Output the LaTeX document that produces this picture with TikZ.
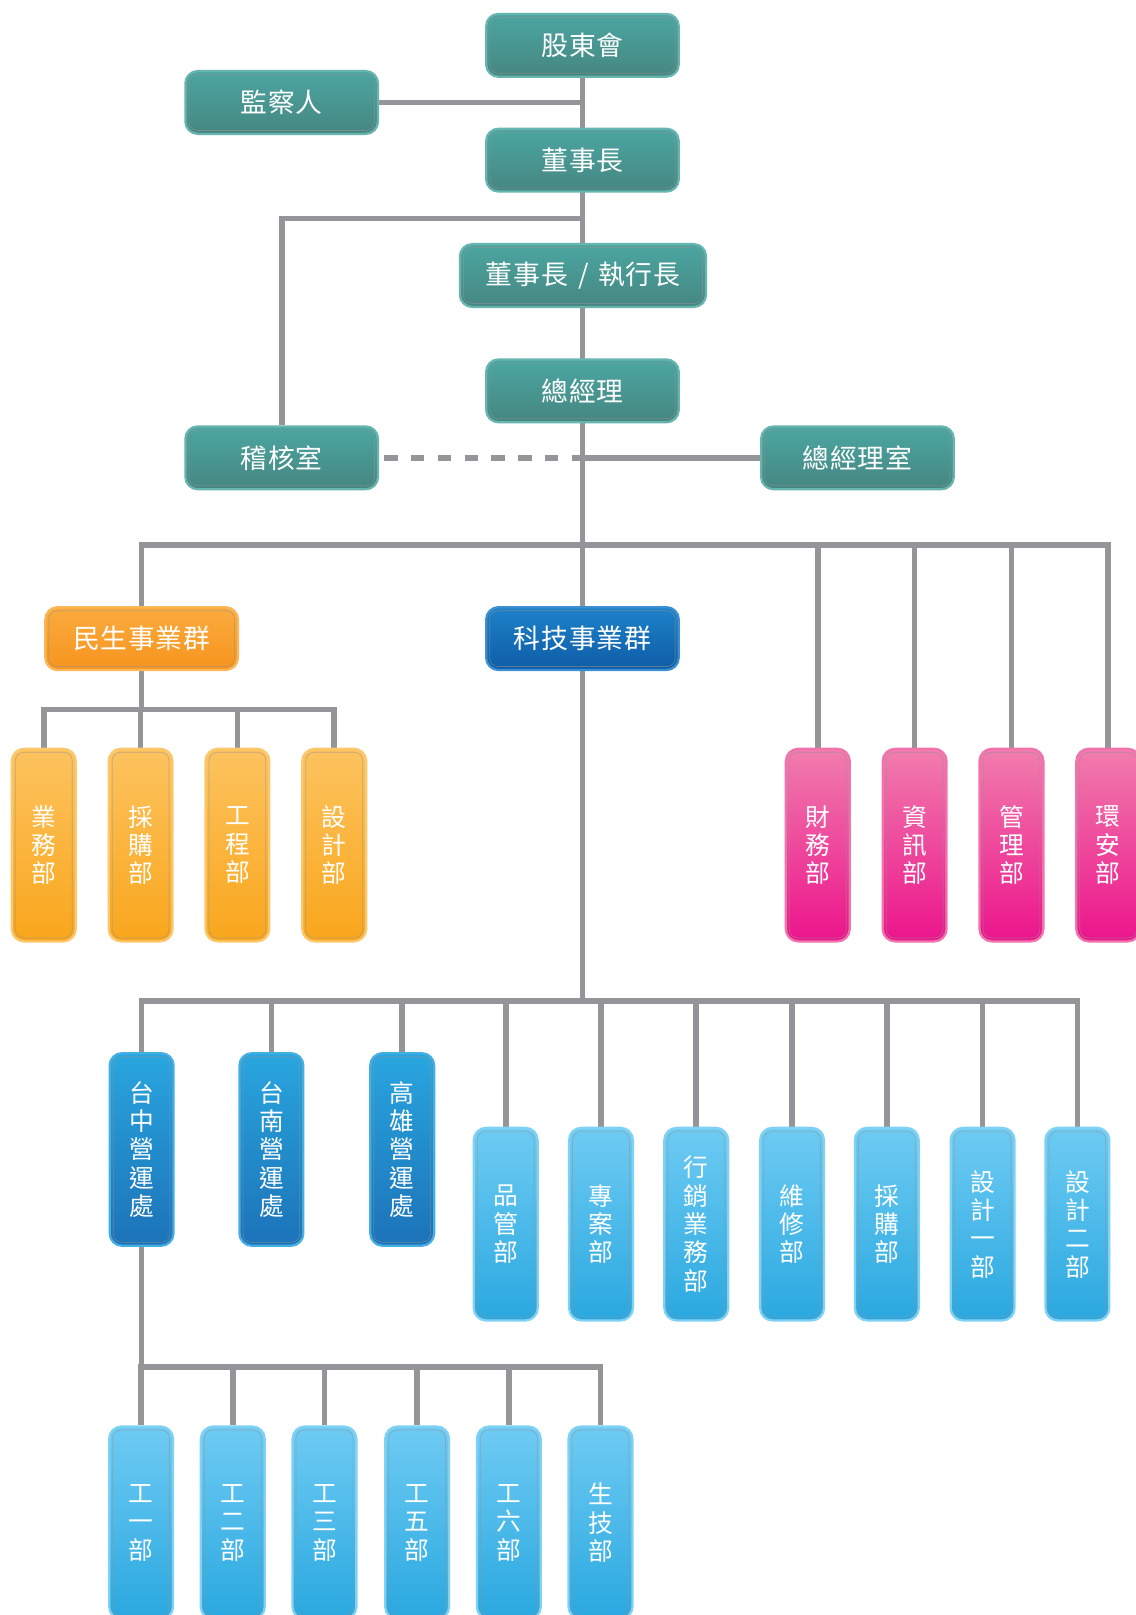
\documentclass[tikz,border=0pt]{standalone}
\usepackage{fontspec}
\newfontfamily\cjk{Noto Sans CJK TC}
\newfontfamily\cjkw{Noto Sans CJK TC}[LetterSpace=3]
\usetikzlibrary{backgrounds}
\definecolor{lineG}{HTML}{939598}
\definecolor{tealT}{HTML}{4BA6A1}
\definecolor{tealB}{HTML}{468681}
\definecolor{tealE}{HTML}{66B5AF}
\definecolor{msT}{HTML}{FAAB3E}
\definecolor{msB}{HTML}{F7941E}
\definecolor{msE}{HTML}{FBB655}
\definecolor{orT}{HTML}{FDC35F}
\definecolor{orB}{HTML}{F9A61C}
\definecolor{orE}{HTML}{FDC76C}
\definecolor{kjT}{HTML}{1E82C8}
\definecolor{kjB}{HTML}{0E5CA7}
\definecolor{kjE}{HTML}{3A90D2}
\definecolor{pkT}{HTML}{F17DAD}
\definecolor{pkB}{HTML}{EC148C}
\definecolor{pkE}{HTML}{F173AD}
\definecolor{dbT}{HTML}{29A6DF}
\definecolor{dbB}{HTML}{1C72B8}
\definecolor{dbE}{HTML}{45AEE2}
\definecolor{lbT}{HTML}{6ECBF3}
\definecolor{lbB}{HTML}{2AA8E0}
\definecolor{lbE}{HTML}{80D2F5}
\tikzset{
  box/.style={rounded corners=12pt, line width=2.2pt, text=white, inner sep=0pt},
  widebox/.style={box, minimum width=187pt, minimum height=61pt, font=\cjkw\fontsize{26}{30}\selectfont},
  tallbox/.style={box, minimum width=62pt, minimum height=187pt, align=center, font=\cjk\fontsize{24}{27.5}\selectfont},
  tealc/.style={top color=tealT, bottom color=tealB, draw=tealE},
  msc/.style={top color=msT, bottom color=msB, draw=msE},
  orc/.style={top color=orT, bottom color=orB, draw=orE},
  kjc/.style={top color=kjT, bottom color=kjB, draw=kjE},
  pkc/.style={top color=pkT, bottom color=pkB, draw=pkE},
  dbc/.style={top color=dbT, bottom color=dbB, draw=dbE},
  lbc/.style={top color=lbT, bottom color=lbB, draw=lbE},
  innerline/.style={draw=gray!85, draw opacity=0.55, line width=0.7pt, rounded corners=8pt},
  conn/.style={draw=lineG, line width=5.5pt},
  dashconn/.style={conn, dash pattern=on 13pt off 13pt},
}
\begin{document}
\begin{tikzpicture}[x=1pt,y=-1pt]
\useasboundingbox (0,0) rectangle (1102,1568);
% top teal nodes
\node[widebox, tealc] (gd)  at (565.5,44)   {股東會};
\node[widebox, tealc] (jcr) at (273.5,99.5) {監察人};
\node[widebox, tealc] (dsz) at (565.5,155.5){董事長};
\node[widebox, tealc, minimum width=239pt] (ceo) at (566,267.5) {董事長\hspace{4pt} / \hspace{2pt}執行長};
\node[widebox, tealc] (zjl) at (565.5,379.5){總經理};
\node[widebox, tealc] (jh)  at (273.5,444.5){稽核室};
\node[widebox, tealc] (zjs) at (832.5,444.5){總經理室};
% groups
\node[widebox, msc] (ms) at (137.5,620) {民生事業群};
\node[widebox, kjc] (kj) at (565.5,620) {科技事業群};
% orange
\node[tallbox, orc] (o1) at (42.5,820.5)  {業\\務\\部};
\node[tallbox, orc] (o2) at (136.5,820.5) {採\\購\\部};
\node[tallbox, orc] (o3) at (230.5,820.5) {工\\程\\部};
\node[tallbox, orc] (o4) at (324.5,820.5) {設\\計\\部};
% pink
\node[tallbox, pkc] (p1) at (794,820.5)  {財\\務\\部};
\node[tallbox, pkc] (p2) at (888,820.5)  {資\\訊\\部};
\node[tallbox, pkc] (p3) at (982,820.5)  {管\\理\\部};
\node[tallbox, pkc] (p4) at (1076,820.5) {環\\安\\部};
% dark blue
\node[tallbox, dbc] (d1) at (137.5,1116) {台\\中\\營\\運\\處};
\node[tallbox, dbc] (d2) at (263.5,1116) {台\\南\\營\\運\\處};
\node[tallbox, dbc] (d3) at (390.5,1116) {高\\雄\\營\\運\\處};
% light blue
\node[tallbox, lbc] (l1) at (491,1188.5)   {品\\管\\部};
\node[tallbox, lbc] (l2) at (583.5,1188.5) {專\\案\\部};
\node[tallbox, lbc] (l3) at (676,1188.5)   {行\\銷\\業\\務\\部};
\node[tallbox, lbc] (l4) at (769,1188.5)   {維\\修\\部};
\node[tallbox, lbc] (l5) at (861,1188.5)   {採\\購\\部};
\node[tallbox, lbc] (l6) at (954,1188.5)   {設\\計\\一\\部};
\node[tallbox, lbc] (l7) at (1046,1188.5)  {設\\計\\二\\部};
% bottom row
\node[tallbox, lbc] (b1) at (137,1478.5) {工\\一\\部};
\node[tallbox, lbc] (b2) at (226,1478.5) {工\\二\\部};
\node[tallbox, lbc] (b3) at (315,1478.5) {工\\三\\部};
\node[tallbox, lbc] (b4) at (405,1478.5) {工\\五\\部};
\node[tallbox, lbc] (b5) at (494,1478.5) {工\\六\\部};
\node[tallbox, lbc] (b6) at (583,1478.5) {生\\技\\部};
% inner lines
\foreach \n in {gd,jcr,dsz,ceo,zjl,jh,zjs,ms,kj,o1,o2,o3,o4,p1,p2,p3,p4,d1,d2,d3,l1,l2,l3,l4,l5,l6,l7,b1,b2,b3,b4,b5,b6}
  \draw[innerline] ([shift={(4.5pt,-4.5pt)}]\n.north west) rectangle ([shift={(-4.5pt,4.5pt)}]\n.south east);
% bus coordinates
\coordinate (yA) at (0,212);
\coordinate (yB) at (0,529);
\coordinate (yC) at (0,689);
\coordinate (yD) at (0,972);
\coordinate (yE) at (0,1327);
\begin{scope}[on background layer]
\fill[white] (0,0) rectangle (1102,1568);
\draw[conn] (gd.south) -- (kj.north);
\draw[conn] (jcr.east) -- (jcr.east -| gd.south);
\draw[conn] (jh.north) |- (gd.south |- yA);
\draw[dashconn] ([xshift=5pt]jh.east) -- (jh.east -| zjl.south);
\draw[conn] (zjs.west) -- (zjs.west -| zjl.south);
\draw[conn] (ms.north) |- (p4.north |- yB) -- (p4.north);
\foreach \n in {p1,p2,p3} \draw[conn] (\n.north) -- (\n.north |- yB);
\draw[conn] (ms.south) -- (ms.south |- yC);
\draw[conn] (o1.north) |- (o4.north |- yC) -- (o4.north);
\foreach \n in {o2,o3} \draw[conn] (\n.north) -- (\n.north |- yC);
\draw[conn] (kj.south) -- (kj.south |- yD);
\draw[conn] (d1.north) |- (l7.north |- yD) -- (l7.north);
\foreach \n in {d2,d3,l1,l2,l3,l4,l5,l6} \draw[conn] (\n.north) -- (\n.north |- yD);
\draw[conn] (d1.south) -- (d1.south |- yE);
\draw[conn] (b1.north) |- (b6.north |- yE) -- (b6.north);
\foreach \n in {b2,b3,b4,b5} \draw[conn] (\n.north) -- (\n.north |- yE);
\end{scope}
\end{tikzpicture}
\end{document}
